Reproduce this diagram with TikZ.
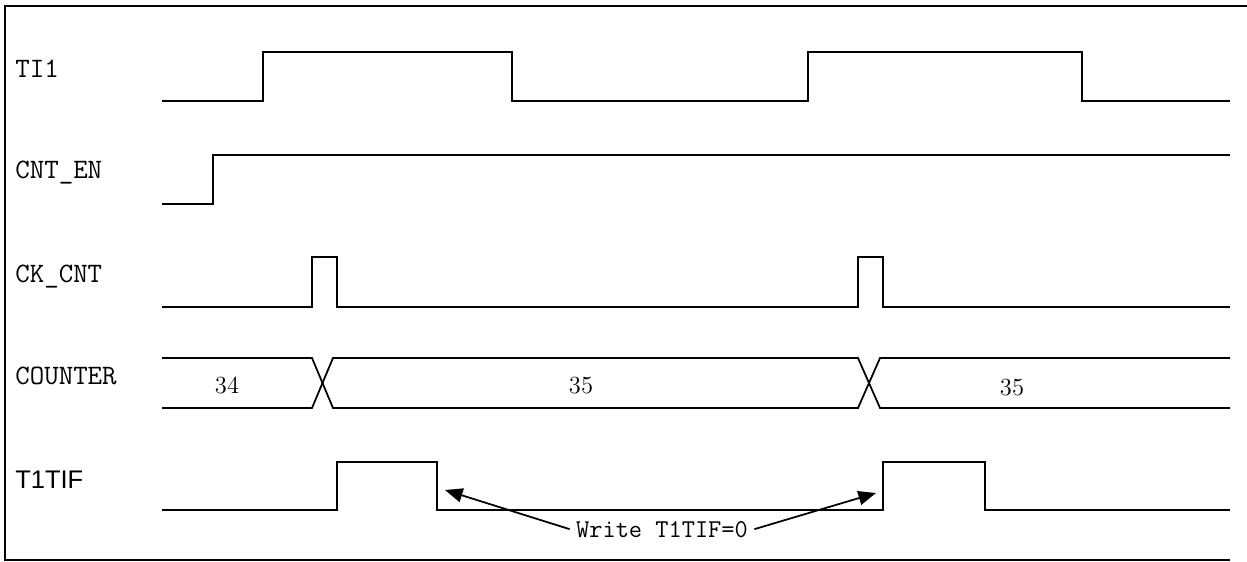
\documentclass[tikz,border=0pt]{standalone}
\usepackage{fontspec}
\newfontfamily\arialfont{Liberation Sans}
\usetikzlibrary{arrows.meta}
\tikzset{
  wave/.style={line width=1pt, line join=miter},
  siglabel/.style={anchor=base west, inner sep=0pt, font=\ttfamily\fontsize{16}{18}\selectfont},
  busval/.style={anchor=base, inner sep=0pt, font=\fontsize{14}{16}\selectfont},
  note/.style={anchor=base, inner sep=3.5pt, font=\ttfamily\fontsize{14.6}{17}\selectfont},
  pointer/.style={line width=1pt, -{Triangle[length=10pt,width=8pt]}}
}

\begin{document}
\begin{tikzpicture}[x=0.02cm, y=-0.02cm]
  \useasboundingbox (0,0) rectangle (1247,561);

  % Frame (open on the right)
  \draw[line width=1pt] (1247,6) -- (5,6) -- (5,560) -- (1230,560);

  % TI1
  \node[siglabel] (lti) at (15,77) {TI1};
  \draw[wave] (162,101) -- (263,101) -- (263,52) -- (512,52) -- (512,101)
    -- (808,101) -- (808,52) -- (1082,52) -- (1082,101) -- (1230,101);

  % CNT_EN
  \node[siglabel] (lcnten) at (15,178) {CNT\_EN};
  \draw[wave] (162,204) -- (213,204) -- (213,155) -- (1230,155);

  % CK_CNT
  \node[siglabel] (lckcnt) at (15,282) {CK\_CNT};
  \draw[wave] (162,307) -- (312,307) -- (312,257) -- (337,257) -- (337,307)
    -- (858,307) -- (858,257) -- (883,257) -- (883,307) -- (1230,307);

  % COUNTER bus
  \node[siglabel] (lcounter) at (15,384) {COUNTER};
  \draw[wave] (162,358) -- (312,358) -- (333,408) -- (858,408) -- (880,358) -- (1230,358);
  \draw[wave] (162,408) -- (312,408) -- (333,358) -- (858,358) -- (880,408) -- (1230,408);
  \node[busval] (vone) at (227,393) {34};
  \node[busval] (vtwo) at (581,393) {35};
  \node[busval] (vthree) at (1012,395) {35};

  % T1TIF
  \node[siglabel, font=\arialfont\fontsize{14.5}{16}\selectfont] (lt1tif) at (15,488) {T1TIF};
  \draw[wave] (162,510) -- (337,510) -- (337,462) -- (437,462) -- (437,510)
    -- (883,510) -- (883,462) -- (985,462) -- (985,510) -- (1230,510);

  % Write note with arrows
  \node[note] (wr) at (662,537) {Write T1TIF=0};
  \coordinate (tipl) at (445,490);
  \coordinate (tipr) at (876,493);
  \draw[pointer] (wr.west) -- (tipl);
  \draw[pointer] (wr.east) -- (tipr);
\end{tikzpicture}
\end{document}
